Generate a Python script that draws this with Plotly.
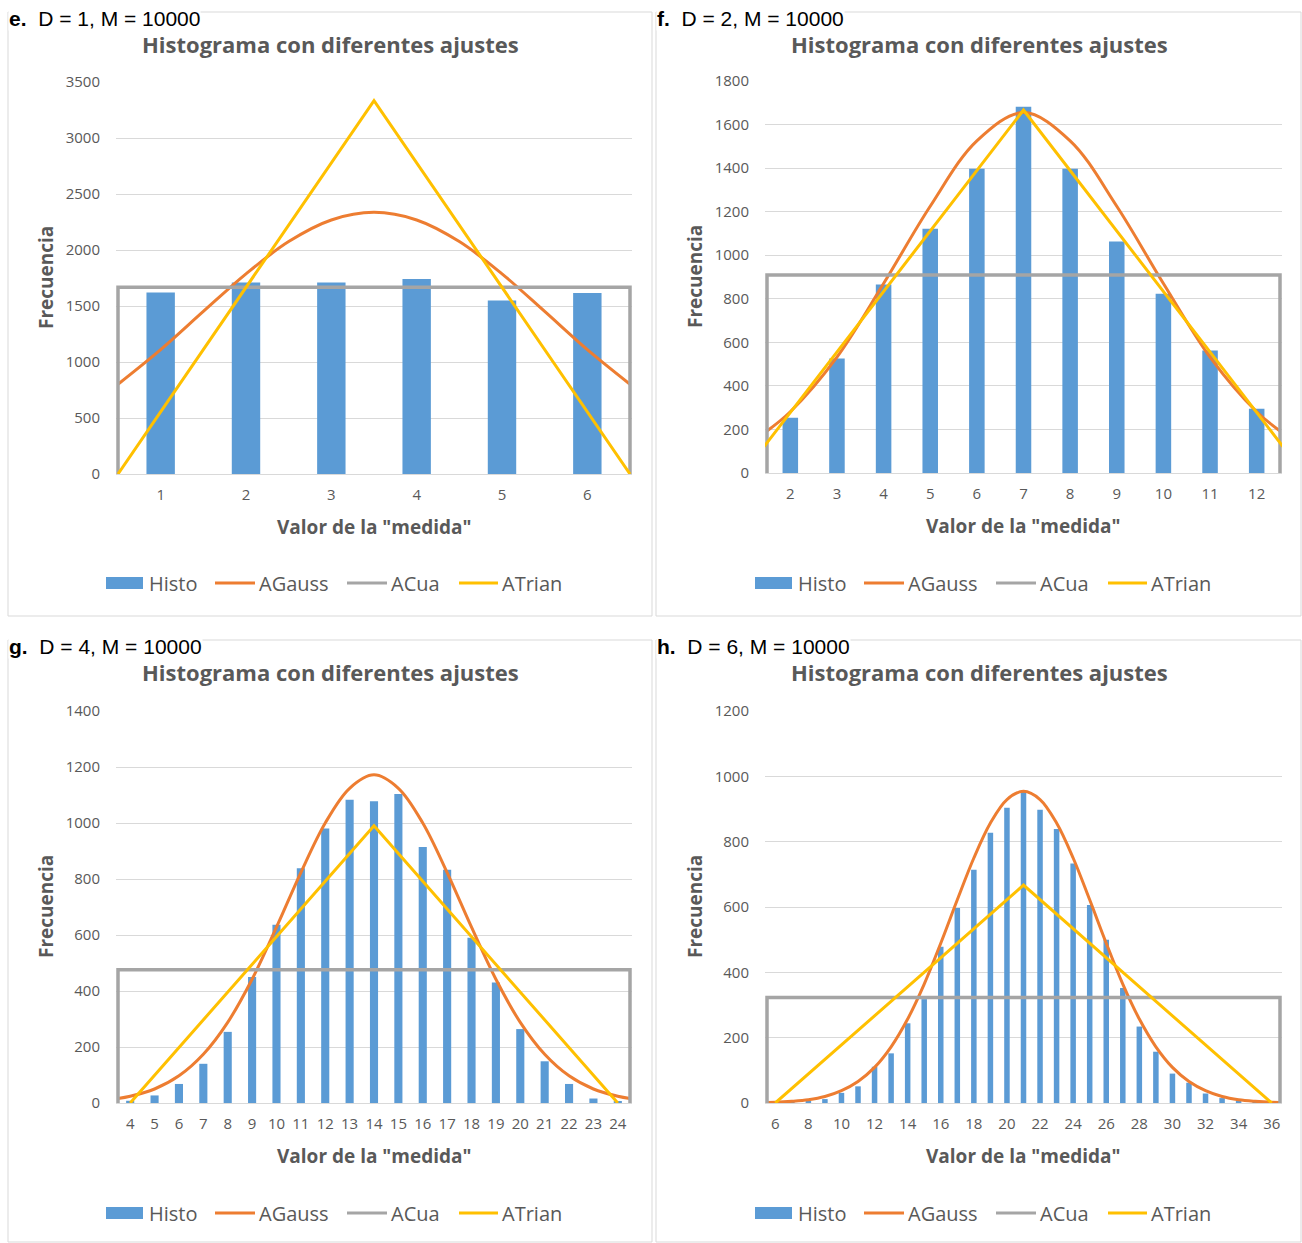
import plotly.graph_objects as go

# ---------------- data ----------------
chart_title = "Histograma con diferentes ajustes"
x_title = 'Valor de la "medida"'
y_title = "Frecuencia"
series_names = ["Histo", "AGauss", "ACua", "ATrian"]
panel_letters = ["e.", "f.", "g.", "h."]
panel_captions = ["D = 1, M = 10000", "D = 2, M = 10000", "D = 4, M = 10000", "D = 6, M = 10000"]

# e. D = 1
cats_e = [1, 2, 3, 4, 5, 6]
histo_e = [1620, 1710, 1710, 1740, 1550, 1615]
gauss_e_x = [0.5, 1, 1.5, 2, 2.5, 3, 3.5, 4, 4.5, 5, 5.5, 6, 6.5]
gauss_e_y = [801, 1110, 1451, 1787, 2075, 2268, 2336, 2268, 2075, 1787, 1451, 1110, 801]
cua_e_x = [0.5, 0.5, 6.5, 6.5]
cua_e_y = [0, 1667, 1667, 0]
trian_e_x = [0.5, 3.5, 6.5]
trian_e_y = [0, 3333, 0]
yticks_e = [0, 500, 1000, 1500, 2000, 2500, 3000, 3500]

# f. D = 2
cats_f = [2, 3, 4, 5, 6, 7, 8, 9, 10, 11, 12]
histo_f = [254, 526, 865, 1122, 1397, 1682, 1397, 1063, 823, 562, 295]
gauss_f_x = [1.5, 2, 3, 4, 5, 6, 7, 8, 9, 10, 11, 12, 12.5]
gauss_f_y = [193, 281, 532, 870, 1225, 1525, 1655, 1525, 1225, 870, 532, 281, 193]
cua_f_x = [1.5, 1.5, 12.5, 12.5]
cua_f_y = [0, 909, 909, 0]
trian_f_x = [1, 7, 13]
trian_f_y = [0, 1667, 0]
yticks_f = [0, 200, 400, 600, 800, 1000, 1200, 1400, 1600, 1800]

# g. D = 4
cats_g = list(range(4, 25))
histo_g = [8, 27, 68, 140, 254, 450, 637, 838, 980, 1083, 1078, 1104, 914, 833, 590, 430, 264, 149, 68, 16, 5]
gauss_g_x = [3.5] + list(range(4, 25)) + [24.5]
gauss_g_y = [16, 24, 50, 97, 174, 288, 442, 628, 823, 1000, 1124, 1172, 1124, 1000, 823, 628, 442, 288, 174, 97, 50, 24, 16]
cua_g_x = [3.5, 3.5, 24.5, 24.5]
cua_g_y = [0, 476, 476, 0]
trian_g_x = [4, 14, 24]
trian_g_y = [0, 990, 0]
yticks_g = [0, 200, 400, 600, 800, 1000, 1200, 1400]

# h. D = 6
cats_h = list(range(6, 37))
histo_h = [0, 1, 5, 12, 31, 51, 111, 152, 244, 318, 478, 597, 714, 827, 904, 956, 898, 839, 733, 606, 500, 352, 234, 157, 90, 62, 29, 15, 5, 1, 0]
gauss_h_x = [5.5] + list(range(6, 37)) + [36.5]
gauss_h_y = [1.5, 2, 5, 10, 20, 38, 66, 109, 172, 257, 364, 489, 622, 750, 857, 929, 954,
             929, 857, 750, 622, 489, 364, 257, 172, 109, 66, 38, 20, 10, 5, 2, 1.5]
cua_h_x = [5.5, 5.5, 36.5, 36.5]
cua_h_y = [0, 323, 323, 0]
trian_h_x = [6, 21, 36]
trian_h_y = [0, 667, 0]
yticks_h = [0, 200, 400, 600, 800, 1000, 1200]
xticks_h = list(range(6, 37, 2))

# ---------------- layout helpers ----------------
W, H = 1302, 1243
FONT = "Open Sans"
TXT = "#595959"
C_HISTO, C_GAUSS, C_CUA, C_TRIAN = "#5B9BD5", "#ED7D31", "#A5A5A5", "#FFC000"
SERIES_COLORS = [C_HISTO, C_GAUSS, C_CUA, C_TRIAN]
EDGE_PAD = 2  # px of extra room so the edge lines are not clipped


def px(x):
    return x / W


def py(y):
    return 1 - y / H


panels = [
    dict(cats=cats_e, histo=histo_e, gx=gauss_e_x, gy=gauss_e_y, cx=cua_e_x, cy=cua_e_y,
         tx=trian_e_x, ty=trian_e_y, yticks=yticks_e, xticks=cats_e,
         xr=[0.5, 6.5], plot=(118, 82, 630, 474), box=(8, 12, 652, 616), leg=(106, 583)),
    dict(cats=cats_f, histo=histo_f, gx=gauss_f_x, gy=gauss_f_y, cx=cua_f_x, cy=cua_f_y,
         tx=trian_f_x, ty=trian_f_y, yticks=yticks_f, xticks=cats_f,
         xr=[1.5, 12.5], plot=(767, 81, 1280, 473), box=(656, 12, 1301, 616), leg=(755, 583)),
    dict(cats=cats_g, histo=histo_g, gx=gauss_g_x, gy=gauss_g_y, cx=cua_g_x, cy=cua_g_y,
         tx=trian_g_x, ty=trian_g_y, yticks=yticks_g, xticks=cats_g,
         xr=[3.5, 24.5], plot=(118, 711, 630, 1103), box=(8, 640, 652, 1242), leg=(106, 1213)),
    dict(cats=cats_h, histo=histo_h, gx=gauss_h_x, gy=gauss_h_y, cx=cua_h_x, cy=cua_h_y,
         tx=trian_h_x, ty=trian_h_y, yticks=yticks_h, xticks=xticks_h,
         xr=[5.5, 36.5], plot=(767, 711, 1280, 1103), box=(656, 640, 1301, 1242), leg=(755, 1213)),
]

# legend item offsets (symbol start, symbol end, text start) relative to legend left
LEG_ITEMS = [(0, 37, 41), (109, 149, 151), (241, 281, 283), (353, 392, 394)]

fig = go.Figure()
layout = dict(
    width=W, height=H, autosize=False,
    margin=dict(l=0, r=0, t=0, b=0, pad=0, autoexpand=False),
    paper_bgcolor="white", plot_bgcolor="white",
    font=dict(family=FONT, color=TXT), showlegend=False,
    shapes=[], annotations=[],
)

for i, p in enumerate(panels):
    n = "" if i == 0 else str(i + 1)
    xa, ya = "x" + n, "y" + n
    x0, y0, x1, y1 = p["plot"]
    fig.add_trace(go.Bar(x=p["cats"], y=p["histo"], width=0.333, marker=dict(color=C_HISTO, line=dict(width=0)),
                         name=series_names[0], xaxis=xa, yaxis=ya))
    fig.add_trace(go.Scatter(x=p["gx"], y=p["gy"], mode="lines", name=series_names[1],
                             line=dict(color=C_GAUSS, width=3, shape="spline", smoothing=1.0),
                             xaxis=xa, yaxis=ya))
    fig.add_trace(go.Scatter(x=p["cx"], y=p["cy"], mode="lines", name=series_names[2],
                             line=dict(color=C_CUA, width=3.5), xaxis=xa, yaxis=ya))
    fig.add_trace(go.Scatter(x=p["tx"], y=p["ty"], mode="lines", name=series_names[3],
                             line=dict(color=C_TRIAN, width=3), xaxis=xa, yaxis=ya))

    scale = (x1 - x0) / (p["xr"][1] - p["xr"][0])
    pad_u = EDGE_PAD / scale
    layout["xaxis" + n] = dict(
        domain=[px(x0 - EDGE_PAD), px(x1 + EDGE_PAD)], anchor=ya,
        range=[p["xr"][0] - pad_u, p["xr"][1] + pad_u], tickmode="array", tickvals=p["xticks"],
        showgrid=False, zeroline=False, showline=True, linecolor="#D9D9D9", linewidth=1,
        ticks="outside", ticklen=7, tickcolor="rgba(0,0,0,0)", automargin=False,
        tickfont=dict(family=FONT, size=15, color=TXT), fixedrange=True,
    )
    layout["yaxis" + n] = dict(
        domain=[py(y1), py(y0)], anchor=xa, range=[0, p["yticks"][-1]], tickmode="array", tickvals=p["yticks"],
        showgrid=True, gridcolor="#D9D9D9", gridwidth=1, zeroline=False, showline=False,
        ticks="outside", ticklen=12, tickcolor="rgba(0,0,0,0)", automargin=False,
        tickfont=dict(family=FONT, size=15, color=TXT), fixedrange=True,
    )
    bx0, by0, bx1, by1 = p["box"]
    cx = (bx0 + bx1) / 2
    layout["shapes"].append(dict(type="rect", xref="paper", yref="paper",
                                 x0=px(bx0), x1=px(bx1), y0=py(by1), y1=py(by0),
                                 line=dict(color="#D9D9D9", width=1), layer="below"))
    # panel caption
    layout["annotations"].append(dict(
        xref="paper", yref="paper", x=px(bx0), y=py(by0 + 6), xanchor="left", yanchor="middle",
        text="<b>" + panel_letters[i] + "</b>\u00a0\u00a0" + panel_captions[i], showarrow=False,
        font=dict(family="Liberation Sans", size=21, color="black"), bgcolor="white", borderpad=0))
    # chart title
    layout["annotations"].append(dict(
        xref="paper", yref="paper", x=px(cx + 1), y=py(by0 + 32), xanchor="center", yanchor="middle",
        text="<b>" + chart_title + "</b>", showarrow=False, font=dict(family=FONT, size=22, color=TXT)))
    # axis titles
    layout["annotations"].append(dict(
        xref="paper", yref="paper", x=px((x0 + x1) / 2), y=py(y1 + 53), xanchor="center", yanchor="middle",
        text="<b>" + x_title + "</b>", showarrow=False, font=dict(family=FONT, size=19, color=TXT)))
    layout["annotations"].append(dict(
        xref="paper", yref="paper", x=px(x0 - 72), y=py((y0 + y1) / 2), xanchor="center", yanchor="middle",
        text="<b>" + y_title + "</b>", textangle=-90, showarrow=False, font=dict(family=FONT, size=19, color=TXT)))
    # legend (Excel style, below each chart)
    lx, lyc = p["leg"]
    for k, (s0, s1, t0) in enumerate(LEG_ITEMS):
        if k == 0:
            layout["shapes"].append(dict(type="rect", xref="paper", yref="paper",
                                         x0=px(lx + s0), x1=px(lx + s1), y0=py(lyc + 6), y1=py(lyc - 6),
                                         fillcolor=SERIES_COLORS[k], line=dict(width=0)))
        else:
            layout["shapes"].append(dict(type="line", xref="paper", yref="paper",
                                         x0=px(lx + s0), x1=px(lx + s1), y0=py(lyc), y1=py(lyc),
                                         line=dict(color=SERIES_COLORS[k], width=3)))
        layout["annotations"].append(dict(
            xref="paper", yref="paper", x=px(lx + t0), y=py(lyc), xanchor="left", yanchor="middle",
            text=series_names[k], showarrow=False, font=dict(family=FONT, size=20, color=TXT)))

fig.update_layout(**layout)
post = ("document.body.style.margin='0';"
        "document.documentElement.style.overflow='hidden';"
        "var gd=document.getElementById('{plot_id}');"
        "gd.style.position='fixed';gd.style.top='0';gd.style.left='0';")
fig.write_html("out.html", config={"displayModeBar": False, "responsive": False}, post_script=post)
